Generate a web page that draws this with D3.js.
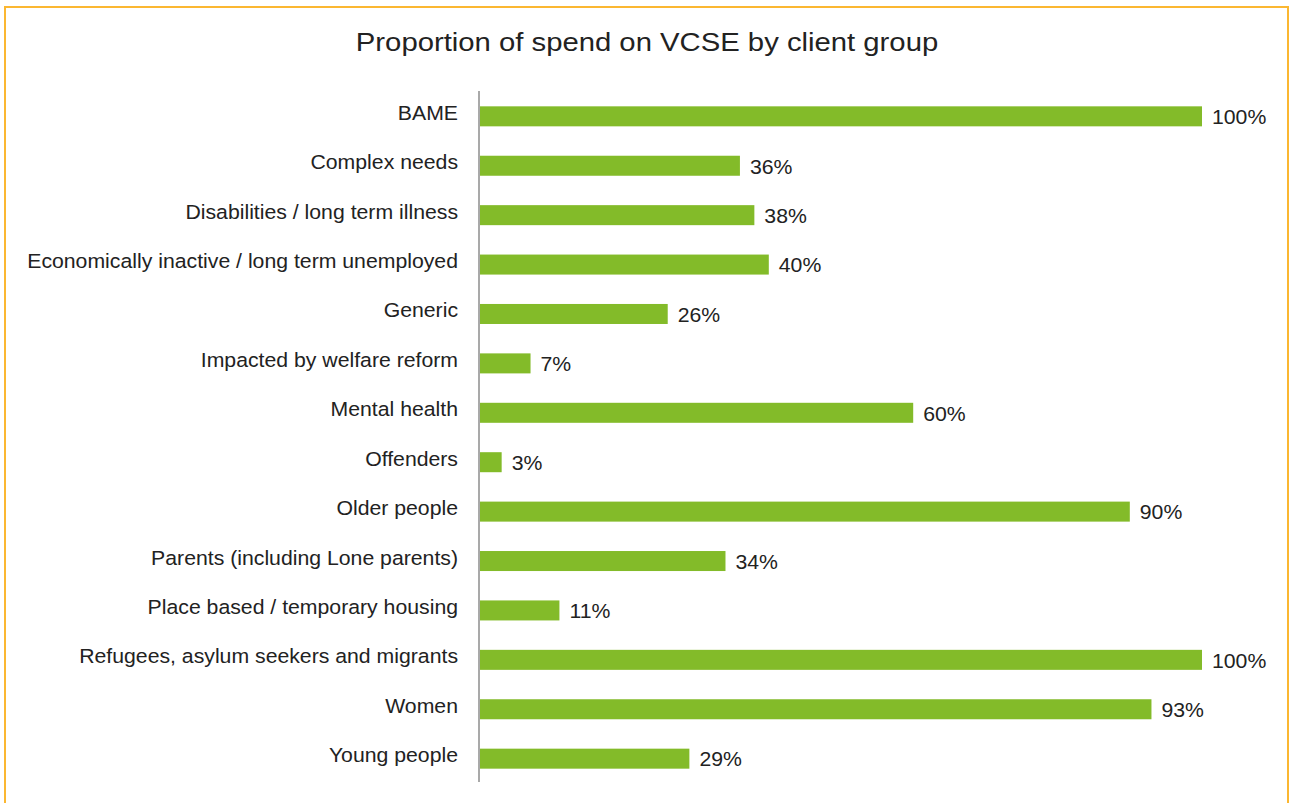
<!DOCTYPE html>
<html>
<head>
<meta charset="utf-8">
<script src="https://cdn.jsdelivr.net/npm/d3@7"></script>
<style>
  html, body { margin: 0; padding: 0; background: #ffffff; }
  svg { display: block; }
</style>
</head>
<body>
<svg id="chart" width="1290" height="803"></svg>
<script>
// Client groups and the share of spend going to VCSE organisations (%)
const categories = [
  "BAME",
  "Complex needs",
  "Disabilities / long term illness",
  "Economically inactive / long term unemployed",
  "Generic",
  "Impacted by welfare reform",
  "Mental health",
  "Offenders",
  "Older people",
  "Parents (including Lone parents)",
  "Place based / temporary housing",
  "Refugees, asylum seekers and migrants",
  "Women",
  "Young people"
];
const values = [100, 36, 38, 40, 26, 7, 60, 3, 90, 34, 11, 100, 93, 29];
const chartTitle = "Proportion of spend on VCSE by client group";

const svg = d3.select("#chart");
const font = "'Liberation Sans', Arial, Helvetica, sans-serif";
const stretch = 1.09; // text is set slightly wide

// outer frame
svg.append("rect")
  .attr("x", 5).attr("y", 7)
  .attr("width", 1283).attr("height", 820)
  .attr("fill", "none")
  .attr("stroke", "#fbb731")
  .attr("stroke-width", 2);

svg.append("text")
  .attr("transform", "translate(647,51) scale(1.105,1)")
  .attr("text-anchor", "middle")
  .attr("font-family", font)
  .attr("font-size", 26.5)
  .attr("fill", "#222222")
  .text(chartTitle);

const x = d3.scaleLinear().domain([0, 100]).range([480, 1202]);
const y = d3.scaleBand()
  .domain(categories)
  .range([92, 783])
  .paddingInner(0.595)
  .paddingOuter(0.29);

const data = categories.map((c, i) => ({ cat: c, val: values[i] }));

svg.selectAll("rect.bar")
  .data(data)
  .join("rect")
  .attr("class", "bar")
  .attr("x", x(0))
  .attr("y", d => y(d.cat))
  .attr("width", d => x(d.val) - x(0))
  .attr("height", y.bandwidth())
  .attr("fill", "#83bb29");

// category axis on the left
const axis = d3.axisLeft(y).tickSize(0).tickPadding(21);
const gAxis = svg.append("g")
  .attr("transform", `translate(${x(0) - 1},0)`)
  .call(axis);
gAxis.select(".domain")
  .attr("d", "M0,91V782")
  .attr("stroke", "#8c8c8c")
  .attr("stroke-width", 1.5);
gAxis.selectAll(".tick text")
  .attr("x", 0)
  .attr("transform", `translate(-21,0) scale(${stretch},1)`)
  .attr("font-family", font)
  .attr("font-size", 19.5)
  .attr("fill", "#222222")
  .attr("dy", "0.18em");

// value labels
svg.selectAll("text.val")
  .data(data)
  .join("text")
  .attr("class", "val")
  .attr("transform", d => `translate(${x(d.val) + 10},${y(d.cat) + y.bandwidth() / 2}) scale(${stretch},1)`)
  .attr("dy", "0.4em")
  .attr("font-family", font)
  .attr("font-size", 19.5)
  .attr("fill", "#222222")
  .text(d => d.val + "%");
</script>
</body>
</html>
